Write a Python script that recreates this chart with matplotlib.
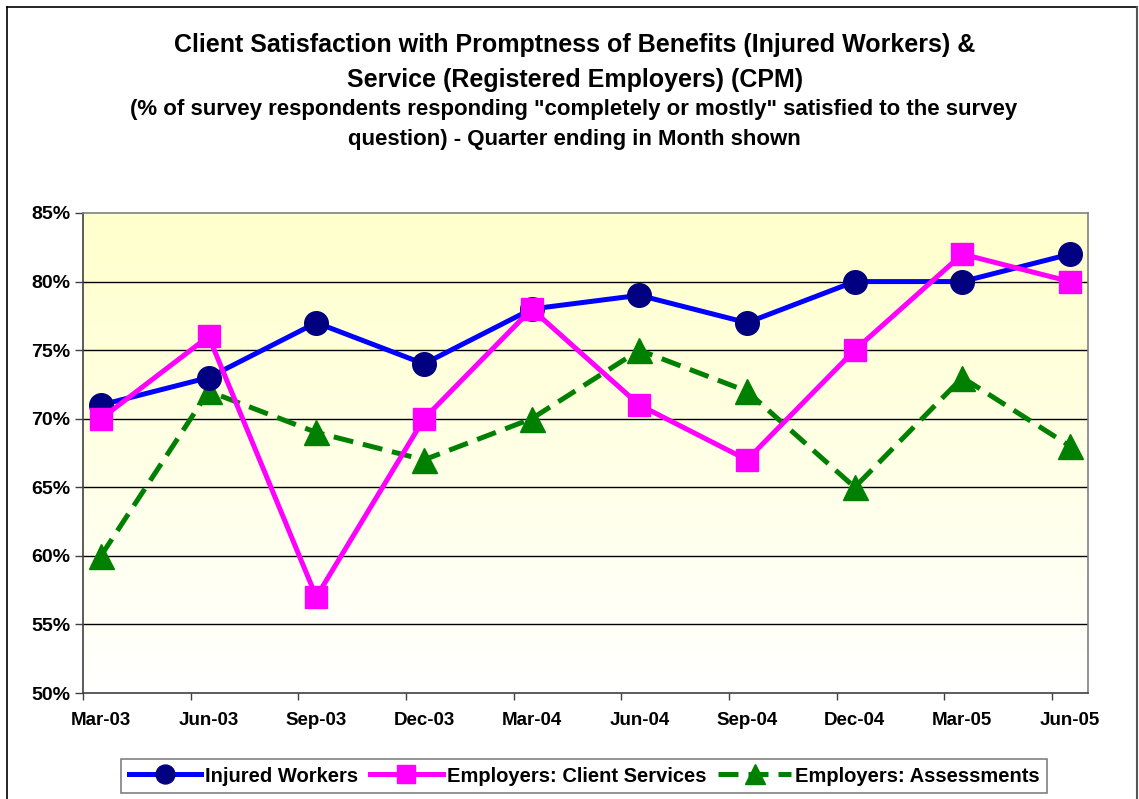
import numpy as np
import matplotlib
matplotlib.use("Agg")
import matplotlib.pyplot as plt
from matplotlib.lines import Line2D

# ---- data ----
quarters = ["Mar-03", "Jun-03", "Sep-03", "Dec-03", "Mar-04",
            "Jun-04", "Sep-04", "Dec-04", "Mar-05", "Jun-05"]
injured_workers = [71, 73, 77, 74, 78, 79, 77, 80, 80, 82]
client_services = [70, 76, 57, 70, 78, 71, 67, 75, 82, 80]
assessments = [60, 72, 69, 67, 70, 75, 72, 65, 73, 68]
y_ticks = [50, 55, 60, 65, 70, 75, 80, 85]

W, H = 1139, 799
fig = plt.figure(figsize=(W / 100, H / 100), dpi=100)
plt.rcParams['font.family'] = ['Liberation Sans', 'DejaVu Sans']

def px(x0, y0, x1, y1):
    return [x0 / W, 1 - y1 / H, (x1 - x0) / W, (y1 - y0) / H]

ax = fig.add_axes(px(83, 213, 1088, 693))

# month-based date axis: 0 = start of Mar-03, 28 = start of Jul-05
xpos = np.arange(len(quarters)) * 3 + 0.5
tick_pos = np.arange(len(quarters)) * 3

# gradient background
grad = np.linspace(0, 1, 256).reshape(-1, 1)
top = np.array([1.0, 1.0, 0.80])
bot = np.array([1.0, 1.0, 1.0])
img = top[None, None, :] * (1 - grad[:, :, None]) + bot[None, None, :] * grad[:, :, None]
ax.imshow(img, extent=[0, 1, 0, 1], transform=ax.transAxes, aspect='auto',
          zorder=0, interpolation='bicubic')

ax.set_xlim(0, 28)
ax.set_ylim(50, 85)
for v in y_ticks[1:-1]:
    ax.axhline(v, color='black', lw=1.0, zorder=1)

ax.plot(xpos, injured_workers, color='#0000FF', lw=3.6, marker='o', ms=17,
        mfc='#000080', mec='#000080', zorder=3, label='Injured Workers')
ax.plot(xpos, client_services, color='#FF00FF', lw=3.6, marker='s', ms=16,
        mfc='#FF00FF', mec='#FF00FF', zorder=4, label='Employers: Client Services')
ax.plot(xpos, assessments, color='#008000', lw=3.6, ls=(0, (4, 2)), marker='^', ms=18,
        mfc='#008000', mec='#008000', zorder=2, label='Employers: Assessments')

ax.set_yticks(y_ticks)
ax.set_yticklabels([f"{v}%" for v in y_ticks], fontsize=14, fontweight='bold')
ax.set_xticks(tick_pos)
ax.set_xticklabels([])
ax.set_xticks(xpos, minor=True)
ax.set_xticklabels(quarters, minor=True, fontsize=13.5, fontweight='bold')
ax.tick_params(axis='x', which='major', length=5, width=1, direction='out', color='#404040')
ax.tick_params(axis='x', which='minor', length=0, pad=14)
ax.tick_params(axis='y', length=6, width=1, direction='out', color='#404040', pad=3)

for s in ['left', 'bottom']:
    ax.spines[s].set_color('#404040')
    ax.spines[s].set_linewidth(1.2)
for s in ['top', 'right']:
    ax.spines[s].set_color('#808080')
    ax.spines[s].set_linewidth(1.2)

# titles
fig.text(575 / W, 1 - 45 / H, "Client Satisfaction with Promptness of Benefits (Injured Workers) &",
         ha='center', va='center', fontsize=18, fontweight='bold')
fig.text(575 / W, 1 - 80 / H, "Service (Registered Employers) (CPM)",
         ha='center', va='center', fontsize=18, fontweight='bold')
fig.text(574 / W, 1 - 110 / H,
         "(% of survey respondents responding \"completely or mostly\" satisfied to the survey",
         ha='center', va='center', fontsize=16, fontweight='bold')
fig.text(574 / W, 1 - 140 / H, "question) - Quarter ending in Month shown",
         ha='center', va='center', fontsize=16, fontweight='bold')

# legend
leg = fig.legend(loc='center', bbox_to_anchor=(584 / W, 1 - 776 / H), ncol=3,
                 prop={'weight': 'bold', 'size': 14.5}, frameon=True, fancybox=False,
                 edgecolor='#606060', handlelength=3.6, handletextpad=0.2,
                 columnspacing=0.6, borderpad=0.35, markerscale=0.8)
leg.get_frame().set_linewidth(1.2)

# outer frame
fig.add_artist(Line2D([6.5 / W, 6.5 / W], [0, 1 - 6.5 / H], color='black', lw=1.2,
                      transform=fig.transFigure))
fig.add_artist(Line2D([6.5 / W, 1136.5 / W], [1 - 6.5 / H, 1 - 6.5 / H], color='black', lw=1.2,
                      transform=fig.transFigure))
fig.add_artist(Line2D([1136.5 / W, 1136.5 / W], [0, 1 - 6.5 / H], color='#555555', lw=1.5,
                      transform=fig.transFigure))

fig.savefig("out.png", dpi=100)
